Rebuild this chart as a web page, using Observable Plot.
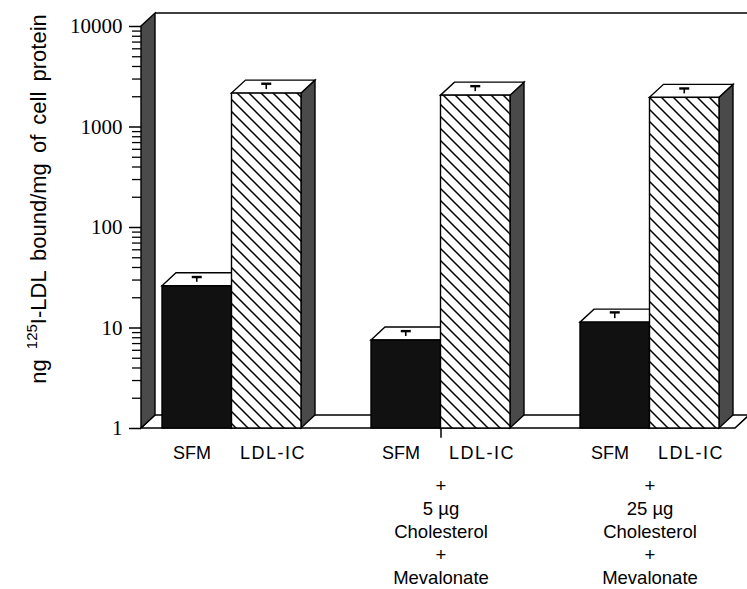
<!DOCTYPE html>
<html>
<head>
<meta charset="utf-8">
<script src="https://cdn.jsdelivr.net/npm/d3@7"></script>
<script src="https://cdn.jsdelivr.net/npm/@observablehq/plot@0.6"></script>
<style>
  html, body { margin: 0; padding: 0; background: #fff; }
  #chart svg { display: block; }
</style>
</head>
<body>
<div id="chart"></div>
<script>
// ---- data ----
const groups = ["control", "5 µg", "25 µg"];
const treatments = ["SFM", "LDL-IC"];
const sfmValues = [26, 7.5, 11.3];
const ldlValues = [2150, 2050, 1950];
const sfmErrors = [3, 0.9, 1.6];
const ldlErrors = [280, 250, 230];
const groupNotes = ["", "+\n5 µg\nCholesterol\n+\nMevalonate", "+\n25 µg\nCholesterol\n+\nMevalonate"];
const majorTicks = [1, 10, 100, 1000, 10000];
const yTitleParts = ["ng ", "125", "I-LDL bound/mg of cell protein"];

const rows = groups.flatMap((g, i) => [
  {group: g, treatment: "SFM", value: sfmValues[i], err: sfmErrors[i]},
  {group: g, treatment: "LDL-IC", value: ldlValues[i], err: ldlErrors[i]}
]);
const minorTicks = d3.range(0, 4).flatMap(e => d3.range(2, 10).map(k => k * Math.pow(10, e)));

// ---- styling ----
const DX = 14, DY = 13;          // 3D depth offset
const SIDE = "#4a4a4a";
const xOpts = {type: "band", domain: groups, range: [141, 735], paddingInner: 1 / 3, paddingOuter: 0.081, align: 0.56};
const bw = Plot.scale({x: xOpts}).bandwidth;
const pts = a => a.map(p => p.join(",")).join(" ");

// floor, back wall and left wall
const frame3d = Plot.ruleY([1, 10000], {
  y: d => d,
  render(index, scales, values, dims) {
    const yF = scales.y(1), yT = scales.y(10000);
    const x0 = dims.marginLeft, x1 = dims.width - dims.marginRight;
    const g = d3.create("svg:g");
    g.append("polygon").attr("points", pts([[x0, yF], [x1, yF], [x1 + DX, yF - DY], [x0 + DX, yF - DY]]))
      .attr("fill", "#fff").attr("stroke", "#000").attr("stroke-width", 1.6);
    g.append("line").attr("x1", x0 + DX).attr("x2", dims.width + 5).attr("y1", yT - DY).attr("y2", yT - DY)
      .attr("stroke", "#000").attr("stroke-width", 1.6);
    g.append("polygon").attr("points", pts([[x0, yT], [x0 + DX, yT - DY], [x0 + DX, yF - DY], [x0, yF]]))
      .attr("fill", SIDE).attr("stroke", "#000").attr("stroke-width", 1.4);
    return g.node();
  }
});

function bars3d(treatment, fill) {
  const data = rows.filter(d => d.treatment === treatment);
  const k = treatments.indexOf(treatment);
  return Plot.barY(data, {
    x: "group", y1: () => 1, y2: "value",
    render(index, scales, values) {
      const w = scales.x.bandwidth() / treatments.length;
      const g = d3.create("svg:g");
      if (fill.startsWith("url")) {
        const p = g.append("defs").append("pattern").attr("id", "hatch")
          .attr("patternUnits", "userSpaceOnUse").attr("width", 12).attr("height", 12);
        p.append("rect").attr("width", 12).attr("height", 12).attr("fill", "#fff");
        p.append("path").attr("d", "M0,0L12,12M-3,9L3,15M9,-3L15,3")
          .attr("stroke", "#000").attr("stroke-width", 1.5);
      }
      for (const i of index) {
        const xl = values.x[i] + k * w, xr = xl + w;
        const yt = values.y2[i], yb = values.y1[i];
        g.append("polygon").attr("points", pts([[xr, yb], [xr, yt], [xr + DX, yt - DY], [xr + DX, yb - DY]]))
          .attr("fill", SIDE).attr("stroke", "#000").attr("stroke-width", 1.4);
        g.append("polygon").attr("points", pts([[xl, yt], [xr, yt], [xr + DX, yt - DY], [xl + DX, yt - DY]]))
          .attr("fill", "#fff").attr("stroke", "#000").attr("stroke-width", 1.4);
        g.append("rect").attr("x", xl).attr("y", yt).attr("width", w).attr("height", yb - yt)
          .attr("fill", fill).attr("stroke", "#000").attr("stroke-width", 1.4);
        // error bar drawn on the top face
        const d = data[i];
        const cx = xl + w / 2;
        const ye = scales.y(d.value + d.err) - 4, ys = yt - 4;
        g.append("line").attr("x1", cx).attr("x2", cx).attr("y1", ys).attr("y2", ye)
          .attr("stroke", "#000").attr("stroke-width", 1.6);
        g.append("line").attr("x1", cx - 5).attr("x2", cx + 5).attr("y1", ye).attr("y2", ye)
          .attr("stroke", "#000").attr("stroke-width", 2.4);
      }
      return g.node();
    }
  });
}

const labelNudge = [-5, 6];
const labelMarks = treatments.map((t, k) => Plot.text(rows.filter(d => d.treatment === t), {
  x: "group", y: () => 1, text: "treatment",
  dx: (k - 0.5) * bw / 2 + labelNudge[k], dy: 25,
  fontSize: 18, fill: "#000",
  render(index, scales, values, dims, ctx, next) {
    const g = next(index, scales, values, dims, ctx);
    if (t === "LDL-IC") g.setAttribute("letter-spacing", "1.5");
    return g;
  }
}));

const notes = groups.map((g, i) => ({group: g, note: groupNotes[i]}));

const plot = Plot.plot({
  width: 747, height: 589,
  marginTop: 26, marginBottom: 161, marginLeft: 141, marginRight: 12,
  style: {fontFamily: "'Liberation Sans', Arial, Helvetica, sans-serif", background: "#fff", overflow: "visible", color: "#000"},
  x: {...xOpts, axis: null},
  y: {type: "log", domain: [1, 10000]},
  marks: [
    frame3d,
    Plot.axisY({ticks: minorTicks, tickSize: 9, tickFormat: () => "", label: null, strokeWidth: 1.3}),
    Plot.axisY({ticks: majorTicks, tickSize: 12, tickPadding: 7, tickFormat: d3.format("d"), label: null,
      fontSize: 21, fontFamily: "'Liberation Serif', 'Times New Roman', serif", strokeWidth: 1.5}),
    bars3d("SFM", "#111"),
    bars3d("LDL-IC", "url(#hatch)"),
    ...labelMarks,
    Plot.text(notes, {x: "group", y: () => 1, text: "note", dy: 102, fontSize: 18.5, lineHeight: 1.24, fill: "#000"}),
    Plot.ruleX([groups[1]], {y1: () => 1, y2: () => 0.8, strokeWidth: 1.5})
  ]
});

const svg = d3.select(plot);
const t = svg.append("text")
  .attr("transform", "translate(46,199) rotate(-90)")
  .attr("text-anchor", "middle")
  .attr("fill", "#000")
  .style("font-family", "'Liberation Sans', Arial, Helvetica, sans-serif")
  .style("font-size", "22px")
  .style("word-spacing", "4px");
t.append("tspan").text(yTitleParts[0]);
t.append("tspan").attr("dy", -9).style("font-size", "15px").text(yTitleParts[1]);
t.append("tspan").attr("dy", 9).text(yTitleParts[2]);

document.getElementById("chart").appendChild(plot);
</script>
</body>
</html>
